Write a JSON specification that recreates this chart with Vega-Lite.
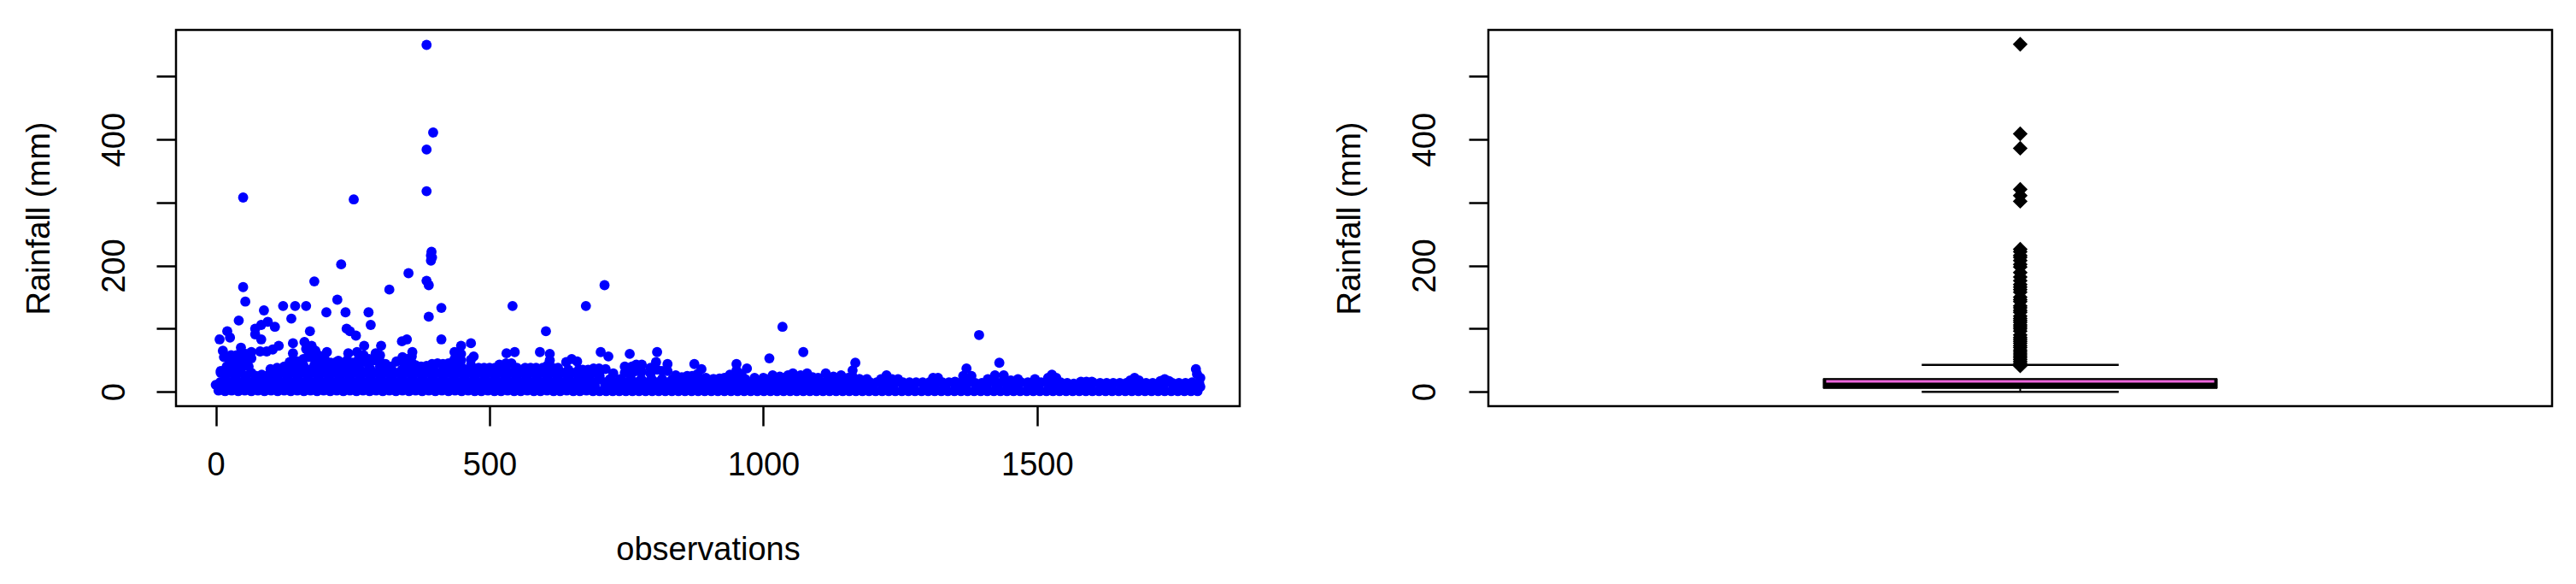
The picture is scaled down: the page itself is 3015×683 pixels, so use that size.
{"$schema":"https://vega.github.io/schema/vega-lite/v6.json","padding":{"left":25,"top":33,"right":10,"bottom":10},"background":"white","spacing":106,
"config":{"font":"Liberation Sans","view":{"stroke":"#000000","strokeWidth":2.5,"continuousWidth":1245,"continuousHeight":440},"axis":{"grid":false,"domain":false,"tickColor":"#000000","tickWidth":2.5,"tickSize":23,"labelColor":"#000000","titleColor":"#000000","labelFont":"Liberation Sans","titleFont":"Liberation Sans","labelFontSize":38,"titleFontSize":38,"titleFontWeight":"normal","labelOverlap":false,"labelFlush":false}},
"datasets":{"pts":[
{"x":385,"y":550},{"x":397,"y":411},{"x":385,"y":384},{"x":385,"y":318},{"x":50,"y":308},{"x":252,"y":305},{"x":229,"y":202},{"x":394,"y":222},{"x":393,"y":216},{"x":395,"y":213},{"x":393,"y":208},{"x":352,"y":188},{"x":180,"y":175},{"x":385,"y":176},{"x":389,"y":169},{"x":317,"y":162},{"x":50,"y":166},{"x":710,"y":169},{"x":54,"y":143},{"x":222,"y":146},{"x":412,"y":133},{"x":542,"y":136},{"x":676,"y":136},{"x":123,"y":136},{"x":145,"y":136},{"x":165,"y":136},{"x":88,"y":129},{"x":202,"y":126},{"x":237,"y":126},{"x":279,"y":126},{"x":138,"y":116},{"x":389,"y":119},{"x":42,"y":113},{"x":283,"y":106},{"x":95,"y":111},{"x":108,"y":103},{"x":83,"y":106},{"x":72,"y":100},{"x":72,"y":91},{"x":83,"y":83},{"x":21,"y":96},{"x":26,"y":86},{"x":7,"y":83},{"x":172,"y":96},{"x":239,"y":100},{"x":245,"y":96},{"x":256,"y":89},{"x":412,"y":83},{"x":349,"y":83},{"x":340,"y":80},{"x":603,"y":96},{"x":466,"y":77},{"x":448,"y":73},{"x":436,"y":63},{"x":471,"y":56},{"x":466,"y":51},{"x":546,"y":63},{"x":531,"y":61},{"x":592,"y":63},{"x":610,"y":60},{"x":703,"y":63},{"x":717,"y":56},
{"x":141,"y":77},{"x":162,"y":79},{"x":175,"y":73},{"x":115,"y":73},{"x":104,"y":67},{"x":93,"y":64},{"x":81,"y":64},{"x":65,"y":63},{"x":46,"y":70},{"x":13,"y":65},{"x":271,"y":73},{"x":302,"y":73},{"x":242,"y":61},{"x":258,"y":63},{"x":292,"y":61},{"x":359,"y":63},{"x":341,"y":55},{"x":141,"y":61},{"x":141,"y":50},{"x":165,"y":68},{"x":170,"y":60},{"x":182,"y":65},{"x":190,"y":57},{"x":203,"y":63},{"x":224,"y":49},{"x":756,"y":60},{"x":806,"y":63},{"x":825,"y":44},{"x":874,"y":44},{"x":887,"y":36},{"x":951,"y":44},{"x":970,"y":37},{"x":1011,"y":53},{"x":1035,"y":103},{"x":1073,"y":63},{"x":1168,"y":46},{"x":1163,"y":34},{"x":1371,"y":37},{"x":1394,"y":90},{"x":1431,"y":46},{"x":1790,"y":36},{"x":1792,"y":28},{"x":1798,"y":22},{"x":1796,"y":14},{"x":1798,"y":8},{"x":0,"y":11},
{"x":5,"y":2},{"x":17,"y":1},{"x":29,"y":2},{"x":41,"y":1},{"x":53,"y":2},{"x":65,"y":1},{"x":77,"y":2},{"x":89,"y":1},{"x":101,"y":2},{"x":113,"y":1},{"x":125,"y":2},{"x":137,"y":1},{"x":149,"y":2},{"x":161,"y":1},{"x":173,"y":2},{"x":185,"y":1},{"x":197,"y":2},{"x":209,"y":1},{"x":221,"y":2},{"x":233,"y":1},{"x":245,"y":2},{"x":257,"y":1},{"x":269,"y":2},{"x":281,"y":1},{"x":293,"y":2},{"x":305,"y":1},{"x":317,"y":2},{"x":329,"y":1},{"x":341,"y":2},{"x":353,"y":1},{"x":365,"y":2},{"x":377,"y":1},{"x":389,"y":2},{"x":401,"y":1},{"x":413,"y":2},{"x":425,"y":1},{"x":437,"y":2},{"x":449,"y":1},{"x":461,"y":2},{"x":473,"y":1},{"x":485,"y":1},{"x":497,"y":2},{"x":509,"y":1},{"x":521,"y":1},{"x":533,"y":2},{"x":545,"y":1},{"x":557,"y":1},{"x":569,"y":2},{"x":581,"y":1},{"x":593,"y":1},{"x":605,"y":2},{"x":617,"y":1},{"x":629,"y":1},{"x":641,"y":2},{"x":653,"y":1},{"x":665,"y":1},{"x":677,"y":2},{"x":689,"y":1},{"x":701,"y":1},{"x":713,"y":1},{"x":725,"y":1},{"x":737,"y":1},{"x":749,"y":1},{"x":761,"y":1},{"x":773,"y":1},{"x":785,"y":1},{"x":797,"y":1},{"x":809,"y":1},{"x":821,"y":1},{"x":833,"y":1},{"x":845,"y":1},{"x":857,"y":1},{"x":869,"y":1},{"x":881,"y":1},{"x":893,"y":1},{"x":905,"y":1},{"x":917,"y":1},{"x":929,"y":1},{"x":941,"y":1},{"x":953,"y":1},{"x":965,"y":1},{"x":977,"y":1},{"x":989,"y":1},{"x":1001,"y":1},{"x":1013,"y":1},{"x":1025,"y":1},{"x":1037,"y":1},{"x":1049,"y":1},{"x":1061,"y":1},{"x":1073,"y":1},{"x":1085,"y":1},{"x":1097,"y":1},{"x":1109,"y":1},{"x":1121,"y":1},{"x":1133,"y":1},{"x":1145,"y":1},{"x":1157,"y":1},{"x":1169,"y":1},{"x":1181,"y":1},{"x":1193,"y":1},{"x":1205,"y":1},{"x":1217,"y":1},{"x":1229,"y":1},{"x":1241,"y":1},{"x":1253,"y":1},{"x":1265,"y":1},{"x":1277,"y":1},{"x":1289,"y":1},{"x":1301,"y":1},{"x":1313,"y":1},{"x":1325,"y":1},{"x":1337,"y":1},{"x":1349,"y":1},{"x":1361,"y":1},{"x":1373,"y":1},{"x":1385,"y":1},{"x":1397,"y":1},{"x":1409,"y":1},{"x":1421,"y":1},{"x":1433,"y":1},{"x":1445,"y":1},{"x":1457,"y":1},{"x":1469,"y":1},{"x":1481,"y":1},{"x":1493,"y":1},{"x":1505,"y":1},{"x":1517,"y":1},{"x":1529,"y":1},{"x":1541,"y":1},{"x":1553,"y":1},{"x":1565,"y":1},{"x":1577,"y":1},{"x":1589,"y":1},{"x":1601,"y":1},{"x":1613,"y":1},{"x":1625,"y":1},{"x":1637,"y":1},{"x":1649,"y":1},{"x":1661,"y":1},{"x":1673,"y":1},{"x":1685,"y":1},{"x":1697,"y":1},{"x":1709,"y":1},{"x":1721,"y":1},{"x":1733,"y":1},{"x":1745,"y":1},{"x":1757,"y":1},{"x":1769,"y":1},{"x":1781,"y":1},{"x":1793,"y":1},
{"x":8,"y":10},{"x":27,"y":10},{"x":46,"y":10},{"x":65,"y":10},{"x":84,"y":10},{"x":103,"y":10},{"x":122,"y":10},{"x":141,"y":10},{"x":160,"y":10},{"x":179,"y":10},{"x":198,"y":10},{"x":217,"y":10},{"x":236,"y":10},{"x":255,"y":10},{"x":274,"y":10},{"x":293,"y":10},{"x":312,"y":10},{"x":331,"y":10},{"x":350,"y":10},{"x":369,"y":10},{"x":388,"y":10},{"x":407,"y":10},{"x":426,"y":10},{"x":445,"y":10},{"x":464,"y":10},{"x":483,"y":10},{"x":502,"y":10},{"x":521,"y":10},{"x":540,"y":10},{"x":559,"y":10},{"x":578,"y":10},{"x":597,"y":10},{"x":616,"y":10},{"x":635,"y":10},{"x":654,"y":10},{"x":673,"y":10},{"x":692,"y":10},
{"x":17,"y":20},{"x":36,"y":20},{"x":55,"y":20},{"x":74,"y":20},{"x":93,"y":20},{"x":112,"y":20},{"x":131,"y":20},{"x":150,"y":20},{"x":169,"y":20},{"x":188,"y":20},{"x":207,"y":20},{"x":226,"y":20},{"x":245,"y":20},{"x":264,"y":20},{"x":283,"y":20},{"x":302,"y":20},{"x":321,"y":20},{"x":340,"y":20},{"x":359,"y":20},{"x":378,"y":20},{"x":397,"y":20},{"x":416,"y":20},{"x":435,"y":20},{"x":454,"y":20},{"x":473,"y":20},{"x":492,"y":20},{"x":511,"y":20},{"x":530,"y":20},{"x":549,"y":20},{"x":568,"y":20},{"x":587,"y":20},{"x":606,"y":20},{"x":625,"y":20},{"x":644,"y":20},{"x":663,"y":20},{"x":682,"y":20},{"x":701,"y":20},
{"x":9,"y":30},{"x":27,"y":30},{"x":46,"y":30},{"x":65,"y":30},{"x":84,"y":27},{"x":103,"y":28},{"x":122,"y":30},{"x":141,"y":30},{"x":160,"y":30},{"x":179,"y":30},{"x":198,"y":30},{"x":217,"y":30},{"x":236,"y":30},{"x":255,"y":30},{"x":274,"y":30},{"x":293,"y":30},{"x":312,"y":30},{"x":331,"y":30},{"x":350,"y":30},{"x":369,"y":30},{"x":388,"y":30},{"x":407,"y":30},{"x":426,"y":30},{"x":445,"y":30},{"x":464,"y":30},{"x":483,"y":30},{"x":502,"y":30},{"x":521,"y":30},{"x":540,"y":30},{"x":559,"y":30},{"x":578,"y":30},{"x":597,"y":30},{"x":616,"y":30},{"x":635,"y":30},{"x":654,"y":30},{"x":673,"y":28},{"x":692,"y":30},
{"x":15,"y":6},{"x":34,"y":6},{"x":53,"y":6},{"x":72,"y":6},{"x":91,"y":6},{"x":110,"y":6},{"x":129,"y":6},{"x":148,"y":6},{"x":167,"y":6},{"x":186,"y":6},{"x":205,"y":6},{"x":224,"y":6},{"x":243,"y":6},{"x":262,"y":6},{"x":281,"y":6},{"x":300,"y":6},{"x":319,"y":6},{"x":338,"y":6},{"x":357,"y":6},{"x":376,"y":6},{"x":395,"y":6},{"x":414,"y":6},{"x":433,"y":6},{"x":452,"y":6},{"x":471,"y":6},{"x":490,"y":6},{"x":509,"y":6},{"x":528,"y":6},{"x":547,"y":6},{"x":566,"y":6},{"x":585,"y":6},{"x":604,"y":6},{"x":623,"y":6},{"x":642,"y":6},{"x":661,"y":6},{"x":680,"y":6},
{"x":8,"y":15},{"x":27,"y":15},{"x":46,"y":15},{"x":65,"y":15},{"x":84,"y":15},{"x":103,"y":15},{"x":122,"y":15},{"x":141,"y":15},{"x":160,"y":15},{"x":179,"y":15},{"x":198,"y":15},{"x":217,"y":15},{"x":236,"y":15},{"x":255,"y":15},{"x":274,"y":15},{"x":293,"y":15},{"x":312,"y":15},{"x":331,"y":15},{"x":350,"y":15},{"x":369,"y":15},{"x":388,"y":15},{"x":407,"y":15},{"x":426,"y":15},{"x":445,"y":15},{"x":464,"y":15},{"x":483,"y":15},{"x":502,"y":15},{"x":521,"y":15},{"x":540,"y":15},{"x":559,"y":15},{"x":578,"y":15},{"x":597,"y":15},{"x":616,"y":15},{"x":635,"y":15},{"x":654,"y":15},{"x":673,"y":15},{"x":692,"y":15},
{"x":17,"y":25},{"x":36,"y":25},{"x":55,"y":25},{"x":74,"y":25},{"x":93,"y":25},{"x":112,"y":25},{"x":131,"y":25},{"x":150,"y":25},{"x":169,"y":25},{"x":188,"y":25},{"x":207,"y":25},{"x":226,"y":25},{"x":245,"y":25},{"x":264,"y":25},{"x":283,"y":25},{"x":302,"y":25},{"x":321,"y":25},{"x":340,"y":25},{"x":359,"y":25},{"x":378,"y":25},{"x":397,"y":25},{"x":416,"y":25},{"x":435,"y":25},{"x":454,"y":25},{"x":473,"y":25},{"x":492,"y":25},{"x":511,"y":25},{"x":530,"y":25},{"x":549,"y":25},{"x":568,"y":25},{"x":587,"y":25},{"x":606,"y":25},{"x":625,"y":25},{"x":644,"y":25},{"x":663,"y":25},{"x":682,"y":25},{"x":701,"y":25},
{"x":18,"y":35},{"x":37,"y":35},{"x":131,"y":35},{"x":150,"y":35},{"x":169,"y":35},{"x":188,"y":35},{"x":207,"y":35},{"x":226,"y":35},{"x":245,"y":35},{"x":264,"y":35},{"x":283,"y":35},{"x":302,"y":35},{"x":321,"y":35},{"x":340,"y":35},{"x":359,"y":35},{"x":378,"y":35},{"x":397,"y":35},{"x":416,"y":35},{"x":435,"y":35},{"x":454,"y":35},{"x":473,"y":34},{"x":492,"y":34},{"x":511,"y":34},{"x":530,"y":35},{"x":549,"y":34},{"x":568,"y":34},{"x":587,"y":34},{"x":606,"y":34},{"x":625,"y":34},{"x":644,"y":35},{"x":663,"y":35},{"x":682,"y":32},{"x":701,"y":32},
{"x":9,"y":33},{"x":20,"y":40},{"x":30,"y":40},{"x":40,"y":40},{"x":50,"y":40},{"x":60,"y":40},{"x":25,"y":50},{"x":35,"y":50},{"x":45,"y":50},{"x":55,"y":50},{"x":15,"y":55},{"x":46,"y":60},{"x":38,"y":58},{"x":55,"y":60},{"x":65,"y":53},{"x":28,"y":58},
{"x":100,"y":36},{"x":112,"y":38},{"x":125,"y":40},{"x":135,"y":47},{"x":150,"y":48},{"x":160,"y":52},{"x":170,"y":55},{"x":180,"y":52},{"x":190,"y":48},{"x":200,"y":50},{"x":210,"y":46},{"x":220,"y":47},{"x":230,"y":42},{"x":240,"y":50},{"x":250,"y":46},{"x":260,"y":50},{"x":270,"y":58},{"x":280,"y":52},{"x":290,"y":50},{"x":300,"y":58},{"x":310,"y":44},{"x":320,"y":40},{"x":330,"y":48},{"x":340,"y":50},{"x":350,"y":52},{"x":358,"y":56},{"x":365,"y":42},{"x":375,"y":40},{"x":385,"y":41},{"x":395,"y":44},{"x":405,"y":45},{"x":415,"y":44},{"x":425,"y":45},{"x":432,"y":40},{"x":448,"y":60},{"x":448,"y":50},{"x":448,"y":40},{"x":470,"y":36},{"x":480,"y":38},{"x":490,"y":38},{"x":500,"y":38},{"x":510,"y":38},{"x":518,"y":43},{"x":530,"y":45},{"x":540,"y":45},{"x":550,"y":38},{"x":565,"y":38},{"x":575,"y":38},{"x":585,"y":38},{"x":597,"y":38},{"x":610,"y":50},{"x":606,"y":42},{"x":615,"y":38},{"x":625,"y":38},{"x":640,"y":47},{"x":650,"y":52},{"x":660,"y":48},{"x":670,"y":35},{"x":680,"y":35},{"x":690,"y":37},{"x":700,"y":37},{"x":712,"y":36},
{"x":140,"y":40},{"x":160,"y":42},{"x":180,"y":42},{"x":200,"y":40},{"x":220,"y":38},{"x":240,"y":40},{"x":260,"y":40},{"x":280,"y":40},{"x":300,"y":40},{"x":345,"y":42},{"x":358,"y":46},{"x":270,"y":48},{"x":300,"y":48},{"x":436,"y":52},{"x":436,"y":42},{"x":466,"y":42},
{"x":711,"y":11},{"x":730,"y":11},{"x":749,"y":11},{"x":768,"y":11},{"x":787,"y":11},{"x":806,"y":11},{"x":825,"y":11},{"x":844,"y":11},{"x":863,"y":11},{"x":882,"y":11},{"x":901,"y":11},{"x":920,"y":11},{"x":939,"y":11},{"x":958,"y":11},{"x":977,"y":11},{"x":996,"y":11},{"x":1015,"y":11},{"x":1034,"y":11},{"x":1053,"y":11},{"x":1072,"y":11},{"x":1091,"y":11},{"x":1110,"y":11},{"x":1129,"y":11},{"x":1148,"y":11},{"x":1167,"y":11},{"x":1186,"y":11},
{"x":720,"y":20},{"x":739,"y":20},{"x":758,"y":20},{"x":777,"y":20},{"x":796,"y":20},{"x":815,"y":20},{"x":834,"y":20},{"x":853,"y":20},{"x":872,"y":20},{"x":891,"y":20},{"x":910,"y":20},{"x":929,"y":20},{"x":948,"y":20},{"x":967,"y":20},{"x":986,"y":20},{"x":1005,"y":20},{"x":1024,"y":20},{"x":1043,"y":20},{"x":1062,"y":20},{"x":1081,"y":20},{"x":1100,"y":20},{"x":1119,"y":20},{"x":1138,"y":20},{"x":1157,"y":20},{"x":1176,"y":20},
{"x":720,"y":6},{"x":739,"y":6},{"x":758,"y":6},{"x":777,"y":6},{"x":796,"y":6},{"x":815,"y":6},{"x":834,"y":6},{"x":853,"y":6},{"x":872,"y":6},{"x":891,"y":6},{"x":910,"y":6},{"x":929,"y":6},{"x":948,"y":6},{"x":967,"y":6},{"x":986,"y":6},{"x":1005,"y":6},{"x":1024,"y":6},{"x":1043,"y":6},{"x":1062,"y":6},{"x":1081,"y":6},{"x":1100,"y":6},{"x":1119,"y":6},{"x":1138,"y":6},{"x":1157,"y":6},{"x":1176,"y":6},
{"x":711,"y":15},{"x":730,"y":15},{"x":749,"y":15},{"x":768,"y":15},{"x":787,"y":15},{"x":806,"y":15},{"x":825,"y":15},{"x":844,"y":15},{"x":863,"y":15},{"x":882,"y":15},{"x":901,"y":15},{"x":920,"y":15},{"x":939,"y":15},{"x":958,"y":15},{"x":977,"y":15},{"x":996,"y":15},{"x":1015,"y":15},{"x":1034,"y":15},{"x":1053,"y":15},{"x":1072,"y":15},{"x":1091,"y":15},{"x":1110,"y":15},{"x":1129,"y":15},{"x":1148,"y":15},{"x":1167,"y":15},{"x":1186,"y":15},
{"x":726,"y":29},{"x":747,"y":40},{"x":747,"y":30},{"x":760,"y":40},{"x":760,"y":30},{"x":768,"y":43},{"x":768,"y":33},{"x":778,"y":43},{"x":778,"y":32},{"x":794,"y":38},{"x":794,"y":29},{"x":804,"y":47},{"x":806,"y":35},{"x":815,"y":33},{"x":825,"y":33},{"x":840,"y":26},{"x":851,"y":23},{"x":861,"y":25},{"x":870,"y":25},{"x":880,"y":28},{"x":895,"y":22},{"x":908,"y":20},{"x":920,"y":21},{"x":929,"y":22},{"x":939,"y":27},{"x":951,"y":34},{"x":960,"y":28},{"x":984,"y":22},{"x":1000,"y":22},{"x":1017,"y":26},{"x":1030,"y":24},{"x":1045,"y":26},{"x":1054,"y":29},{"x":1068,"y":26},{"x":1080,"y":29},{"x":1090,"y":23},{"x":1100,"y":22},{"x":1114,"y":29},{"x":1128,"y":24},{"x":1142,"y":26},{"x":1155,"y":22},{"x":1163,"y":24},{"x":1175,"y":20},{"x":1189,"y":20},
{"x":1195,"y":15},{"x":1207,"y":15},{"x":1219,"y":15},{"x":1231,"y":15},{"x":1243,"y":15},{"x":1255,"y":15},{"x":1267,"y":15},{"x":1279,"y":15},{"x":1291,"y":15},{"x":1303,"y":15},{"x":1315,"y":15},{"x":1327,"y":15},{"x":1339,"y":15},{"x":1351,"y":15},{"x":1363,"y":15},{"x":1375,"y":15},{"x":1387,"y":14},{"x":1399,"y":14},{"x":1411,"y":15},{"x":1423,"y":15},{"x":1435,"y":15},{"x":1447,"y":15},{"x":1459,"y":15},{"x":1471,"y":15},{"x":1483,"y":15},{"x":1495,"y":15},{"x":1507,"y":15},{"x":1519,"y":15},{"x":1531,"y":15},{"x":1543,"y":15},{"x":1555,"y":14},{"x":1567,"y":13},{"x":1579,"y":14},{"x":1591,"y":15},{"x":1603,"y":14},{"x":1615,"y":14},{"x":1627,"y":14},{"x":1639,"y":14},{"x":1651,"y":14},{"x":1663,"y":14},{"x":1675,"y":15},{"x":1687,"y":14},{"x":1699,"y":14},{"x":1711,"y":14},{"x":1723,"y":14},{"x":1735,"y":15},{"x":1747,"y":14},{"x":1759,"y":14},{"x":1771,"y":14},{"x":1783,"y":15},
{"x":1199,"y":8},{"x":1218,"y":8},{"x":1237,"y":8},{"x":1256,"y":8},{"x":1275,"y":8},{"x":1294,"y":8},{"x":1313,"y":8},{"x":1332,"y":8},{"x":1351,"y":8},{"x":1370,"y":8},{"x":1389,"y":8},{"x":1408,"y":8},{"x":1427,"y":8},{"x":1446,"y":8},{"x":1465,"y":8},{"x":1484,"y":8},{"x":1503,"y":8},{"x":1522,"y":8},{"x":1541,"y":8},{"x":1560,"y":8},{"x":1579,"y":8},{"x":1598,"y":8},{"x":1617,"y":8},{"x":1636,"y":8},{"x":1655,"y":8},{"x":1674,"y":8},{"x":1693,"y":8},{"x":1712,"y":8},{"x":1731,"y":8},{"x":1750,"y":8},{"x":1769,"y":8},{"x":1788,"y":8},
{"x":1225,"y":26},{"x":1215,"y":20},{"x":1235,"y":20},{"x":1246,"y":20},{"x":1310,"y":22},{"x":1319,"y":22},{"x":1350,"y":16},{"x":1365,"y":25},{"x":1380,"y":25},{"x":1423,"y":26},{"x":1439,"y":26},{"x":1410,"y":20},{"x":1452,"y":18},{"x":1465,"y":20},{"x":1496,"y":20},{"x":1527,"y":27},{"x":1520,"y":22},{"x":1535,"y":22},{"x":1580,"y":16},{"x":1590,"y":16},{"x":1600,"y":16},{"x":1678,"y":22},{"x":1670,"y":18},{"x":1686,"y":18},{"x":1733,"y":20},{"x":1725,"y":17},{"x":1741,"y":17}
],
"out":[{"r":551},{"r":409},{"r":386},{"r":321},{"r":311},{"r":302},{"r":226},{"r":222},{"r":216},{"r":213},{"r":208},{"r":202},{"r":198},{"r":189},{"r":182},{"r":176},{"r":170},{"r":166},{"r":162},{"r":158},{"r":150},{"r":146},{"r":143},{"r":136},{"r":133},{"r":129},{"r":126},{"r":120},{"r":116},{"r":113},{"r":110},{"r":106},{"r":103},{"r":100},{"r":96},{"r":90},{"r":86},{"r":83},{"r":80},{"r":77},{"r":73},{"r":70},{"r":66},{"r":63},{"r":60},{"r":57},{"r":54},{"r":51},{"r":48},{"r":45},{"r":41}],
"box":[{"lo":0,"q1":5.3,"med":16.5,"q3":21,"hi":42.7}]},
"hconcat":[
{"width":1245,"height":440,"data":{"name":"pts"},"mark":{"type":"circle","size":140,"color":"#0000ff","opacity":1},
"encoding":{"x":{"field":"x","type":"quantitative","title":"observations","scale":{"domain":[-72.6,1870],"nice":false,"zero":false},"axis":{"values":[0,500,1000,1500],"format":"d","labelPadding":27,"titlePadding":61}},
"y":{"field":"y","type":"quantitative","title":"Rainfall (mm)","scale":{"domain":[-22.8,573.7],"nice":false,"zero":false},"axis":{"values":[0,100,200,300,400,500],"labelExpr":"datum.value%200==0?datum.label:''","labelAngle":-90,"labelAlign":"center","labelBaseline":"bottom","labelPadding":30,"titlePadding":50}}}},
{"width":1245,"height":440,"layer":[
{"data":{"name":"box"},"mark":{"type":"rect","color":"#000000","stroke":"#000000","strokeWidth":1},"encoding":{"x":{"datum":0.8,"type":"quantitative","scale":{"domain":[0.46,1.54],"nice":false,"zero":false},"axis":null},"x2":{"datum":1.2},"y":{"field":"q1","type":"quantitative","title":"Rainfall (mm)","scale":{"domain":[-22.8,573.7],"nice":false,"zero":false},"axis":{"values":[0,100,200,300,400,500],"labelExpr":"datum.value%200==0?datum.label:''","labelAngle":-90,"labelAlign":"center","labelBaseline":"bottom","labelPadding":32,"titlePadding":50}},"y2":{"field":"q3"}}},
{"data":{"name":"box"},"mark":{"type":"rule","color":"#ee66dd","strokeWidth":3},"encoding":{"x":{"datum":0.803,"type":"quantitative"},"x2":{"datum":1.197},"y":{"field":"med","type":"quantitative"}}},
{"data":{"name":"box"},"mark":{"type":"rule","color":"#000000","strokeWidth":2},"encoding":{"x":{"datum":1,"type":"quantitative"},"y":{"field":"lo","type":"quantitative"},"y2":{"field":"q1"}}},
{"data":{"name":"box"},"mark":{"type":"rule","color":"#000000","strokeWidth":2.5},"encoding":{"x":{"datum":0.9,"type":"quantitative"},"x2":{"datum":1.1},"y":{"field":"lo","type":"quantitative"}}},
{"data":{"name":"box"},"mark":{"type":"rule","color":"#000000","strokeWidth":2.5},"encoding":{"x":{"datum":0.9,"type":"quantitative"},"x2":{"datum":1.1},"y":{"field":"hi","type":"quantitative"}}},
{"data":{"name":"out"},"mark":{"type":"point","shape":"diamond","filled":true,"size":300,"color":"#000000","opacity":1},"encoding":{"x":{"datum":1,"type":"quantitative"},"y":{"field":"r","type":"quantitative"}}}
]}
]}
